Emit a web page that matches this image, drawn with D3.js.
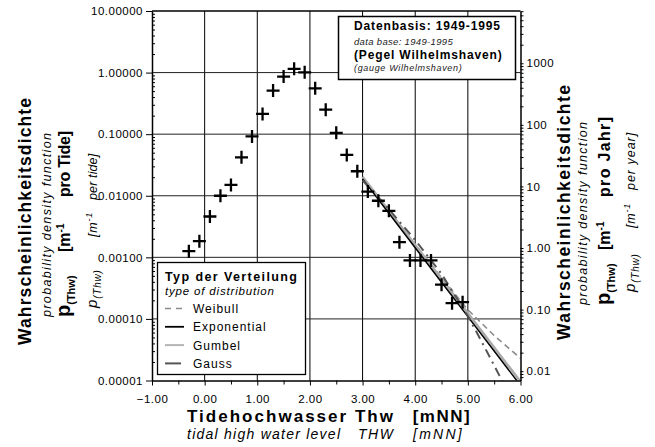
<!DOCTYPE html>
<html>
<head>
<meta charset="utf-8">
<script src="https://cdn.jsdelivr.net/npm/d3@7"></script>
<style>
  body { margin: 0; background: #fff; }
  svg { font-family: "Liberation Sans", Arial, sans-serif; }
</style>
</head>
<body>
<div class="container"></div>
<script>
// observed tide high water levels (m NN) and density per tide
const thw = [-0.3, -0.1, 0.1, 0.3, 0.5, 0.7, 0.9, 1.1, 1.3, 1.5, 1.7, 1.9, 2.1, 2.3,
             2.5, 2.7, 2.9, 3.1, 3.3, 3.5, 3.7, 3.9, 4.1, 4.3, 4.5, 4.7, 4.9];
const density = [0.00126, 0.00183, 0.0046, 0.0100, 0.0150, 0.042, 0.092, 0.213, 0.51, 0.86,
                 1.15, 1.01, 0.556, 0.25, 0.105, 0.046, 0.025, 0.0117, 0.0083, 0.0057,
                 0.00176, 0.00089, 0.00089, 0.00089, 0.00036, 0.00018, 0.000187];

// fitted distributions in the upper tail
const fitX = [3.0, 3.5, 4.0, 4.5, 5.0, 5.5, 6.0];
const weibull = [0.0200, 0.00562, 0.00162, 0.000468, 0.000141, 0.0000537, 0.0000229];
const exponential = [0.0188, 0.00519, 0.00143, 0.000395, 0.000109, 0.0000301, 0.0000083];
const gumbel = [0.0204, 0.00569, 0.00158, 0.000442, 0.000123, 0.0000343, 0.00000955];
const gaussX = [3.0, 3.5, 4.0, 4.5, 5.0, 5.3, 5.6, 5.8];
const gauss = [0.0178, 0.00603, 0.00191, 0.000537, 0.000112, 0.0000372, 0.0000120, 0.0000056];

const xTicks = [-1, 0, 1, 2, 3, 4, 5, 6];
const leftTicks = [0.00001, 0.0001, 0.001, 0.01, 0.1, 1, 10];
const rightTicks = [0.01, 0.1, 1, 10, 100, 1000];
const rightTickLabels = ["0.01", "0.10", "1.00", "10", "100", "1000"];
const tidesPerYear = 705.8;

const legendItems = ["Weibull", "Exponential", "Gumbel", "Gauss"];

const w = 655;
const h = 447;
const margin = { top: 11, left: 152, right: 134.5, bottom: 66.5 };
const width = w - margin.left - margin.right;
const height = h - margin.top - margin.bottom;

const svg = d3.select('.container').append('svg')
    .attr('width', w)
    .attr('height', h);

const chart = svg.append('g')
    .attr('transform', `translate(${margin.left}, ${margin.top})`);

const x = d3.scaleLinear().domain([-1, 6]).range([0, width]);
const y = d3.scaleLog().domain([1e-5, 10]).range([height, 0]);
const yR = d3.scaleLog().domain([1e-5 * tidesPerYear, 10 * tidesPerYear]).range([height, 0]);

// minor ticks per decade
const minorL = [];
for (let n = -5; n < 1; n++) for (let k = 2; k < 10; k++) minorL.push(k * Math.pow(10, n));
const minorR = [];
for (let n = -3; n < 4; n++) for (let k = 2; k < 10; k++) {
  const v = k * Math.pow(10, n);
  if (v > yR.domain()[0] && v < yR.domain()[1]) minorR.push(v);
}
const xMinor = [-0.5, 0.5, 1.5, 2.5, 3.5, 4.5, 5.5];

chart.append('defs').append('clipPath').attr('id', 'clip')
  .append('rect').attr('width', width).attr('height', height);

// grid
chart.append('g').selectAll('line')
  .data(xTicks.slice(1, -1))
  .enter().append('line')
    .attr('x1', d => x(d)).attr('x2', d => x(d))
    .attr('y1', 0).attr('y2', height)
    .attr('stroke', '#000').attr('stroke-width', 1);

chart.append('g').selectAll('line')
  .data(leftTicks.slice(1, -1))
  .enter().append('line')
    .attr('x1', 0).attr('x2', width)
    .attr('y1', d => y(d)).attr('y2', d => y(d))
    .attr('stroke', '#222').attr('stroke-width', 1);

// fitted lines
const plot = chart.append('g').attr('clip-path', 'url(#clip)');
const line = xs => d3.line().x((d, i) => x(xs[i])).y(d => y(d));

plot.append('path').datum(weibull)
  .attr('d', line(fitX)).attr('fill', 'none')
  .attr('stroke', '#8a8a8a').attr('stroke-width', 1.6).attr('stroke-dasharray', '6,4');
plot.append('path').datum(gumbel)
  .attr('d', line(fitX)).attr('fill', 'none')
  .attr('stroke', '#ababab').attr('stroke-width', 2.6);
plot.append('path').datum(exponential)
  .attr('d', line(fitX)).attr('fill', 'none')
  .attr('stroke', '#000').attr('stroke-width', 1.5);
plot.append('path').datum(gauss)
  .attr('d', line(gaussX)).attr('fill', 'none')
  .attr('stroke', '#555').attr('stroke-width', 2).attr('stroke-dasharray', '9,5,2,5');

// observed points
plot.selectAll('.pt')
  .data(density)
  .enter().append('path')
    .classed('pt', true)
    .attr('transform', (d, i) => `translate(${x(thw[i])},${y(d)})`)
    .attr('d', 'M-6.5,0H6.5M0,-6.5V6.5')
    .attr('stroke', '#000').attr('stroke-width', 2.3);

// axes
function styleAxis(g) {
  g.attr('font-family', null).attr('font-size', null);
  g.selectAll('text').attr('font-size', '11.5px').attr('letter-spacing', '0.5px').attr('fill', '#000');
  g.selectAll('line').attr('stroke', '#000');
  g.select('.domain').attr('stroke', '#000').attr('stroke-width', 1.5);
}

chart.append('g')
  .call(d3.axisLeft(y).tickValues(leftTicks).tickFormat(d3.format('.5f')).tickSize(6).tickSizeOuter(0).tickPadding(3))
  .call(styleAxis);
chart.append('g')
  .call(d3.axisLeft(y).tickValues(minorL).tickFormat('').tickSize(-3).tickSizeOuter(0))
  .call(g => g.select('.domain').remove())
  .call(styleAxis);

chart.append('g')
  .attr('transform', `translate(${width},0)`)
  .call(d3.axisRight(yR).tickValues(rightTicks).tickFormat((d, i) => rightTickLabels[i]).tickSize(3).tickSizeOuter(0).tickPadding(3))
  .call(styleAxis);
chart.append('g')
  .attr('transform', `translate(${width},0)`)
  .call(d3.axisRight(yR).tickValues(minorR).tickFormat('').tickSize(3).tickSizeOuter(0))
  .call(g => g.select('.domain').remove())
  .call(styleAxis);

chart.append('g')
  .attr('transform', `translate(0,${height})`)
  .call(d3.axisBottom(x).tickValues(xTicks).tickFormat(d3.format('.2f')).tickSize(5).tickSizeOuter(0).tickPadding(9.5))
  .call(styleAxis);
chart.append('g')
  .attr('transform', `translate(0,${height})`)
  .call(d3.axisBottom(x).tickValues(xMinor).tickFormat('').tickSize(4).tickSizeOuter(0))
  .call(g => g.select('.domain').remove())
  .call(styleAxis);

chart.append('line')
  .attr('x1', 0).attr('x2', width).attr('y1', 0).attr('y2', 0)
  .attr('stroke', '#000').attr('stroke-width', 1.5);

// title box
const tb = svg.append('g');
tb.append('rect')
  .attr('x', 338.5).attr('y', 16.5).attr('width', 177).attr('height', 63)
  .attr('fill', '#fff').attr('stroke', '#000').attr('stroke-width', 1.5);
const titleLines = [
  { t: 'Datenbasis: 1949-1995', y: 30, size: 12, bold: true, len: 146 },
  { t: 'data base: 1949-1995', y: 44.5, size: 9.5, bold: false, len: 98.7 },
  { t: '(Pegel Wilhelmshaven)', y: 58.5, size: 12, bold: true, len: 147.7 },
  { t: '(gauge Wilhelmshaven)', y: 70.5, size: 9, bold: false, len: 107.7 }
];
tb.selectAll('text').data(titleLines).enter().append('text')
  .attr('x', 354).attr('y', d => d.y)
  .attr('font-size', d => d.size)
  .attr('font-weight', d => d.bold ? 'bold' : null)
  .attr('font-style', d => d.bold ? null : 'italic')
  .attr('fill', d => d.bold ? '#000' : '#222')
  .attr('textLength', d => d.len)
  .text(d => d.t);

// legend
const lg = svg.append('g');
lg.append('rect')
  .attr('x', 157.5).attr('y', 262.5).attr('width', 148).attr('height', 112)
  .attr('fill', '#fff').attr('stroke', '#000').attr('stroke-width', 1.3);
lg.append('text').attr('x', 165).attr('y', 281).attr('font-size', 12.5)
  .attr('font-weight', 'bold').attr('textLength', 132).text('Typ der Verteilung');
lg.append('text').attr('x', 165).attr('y', 295).attr('font-size', 11.5)
  .attr('font-style', 'italic').attr('textLength', 109).text('type of distribution');
const lgStyles = [
  { stroke: '#8a8a8a', width: 1.6, dash: '6,5' },
  { stroke: '#000', width: 1.8, dash: null },
  { stroke: '#b5b5b5', width: 2, dash: null },
  { stroke: '#555', width: 2, dash: null }
];
const item = lg.selectAll('.item').data(legendItems).enter().append('g')
  .attr('transform', (d, i) => `translate(0,${308.5 + i * 18.3})`);
item.append('line')
  .attr('x1', 165).attr('x2', (d, i) => i === 3 ? 181 : 184)
  .attr('stroke', (d, i) => lgStyles[i].stroke)
  .attr('stroke-width', (d, i) => lgStyles[i].width)
  .attr('stroke-dasharray', (d, i) => lgStyles[i].dash);
item.append('text')
  .attr('x', 193).attr('y', 4.5)
  .attr('font-size', 12).attr('letter-spacing', '1px')
  .text(d => d);

// rotated axis titles, each piece starts (bottom) at its own y
function vText(px, py, opts) {
  return svg.append('text')
    .attr('transform', `translate(${px},${py}) rotate(-90)`)
    .attr('font-weight', opts.bold ? 'bold' : null)
    .attr('font-style', opts.italic ? 'italic' : null)
    .attr('font-size', opts.size)
    .attr('letter-spacing', opts.ls || null)
    .attr('textLength', opts.len || null);
}

function pLabel(px, ys, words, opts) {
  const a = vText(px, ys[0], opts);
  a.append('tspan').attr('font-size', opts.pSize).text('p');
  a.append('tspan').attr('font-size', opts.subSize).attr('dy', opts.subDy).text('(Thw)');
  const b = vText(px, ys[1], opts);
  b.append('tspan').text('[m');
  b.append('tspan').attr('font-size', opts.subSize - 1).attr('dy', -opts.supDy).text('-1');
  vText(px, ys[2], Object.assign({}, opts, { len: opts.wordLen })).text(words);
}

vText(31, 345, { bold: true, size: 17.5, len: 247 }).text('Wahrscheinlichkeitsdichte');
vText(51, 317, { italic: true, size: 12.5, len: 184 }).text('probability density function');
pLabel(70, [317, 252, 197], 'pro Tide]',
  { bold: true, size: 16, pSize: 20, subSize: 11, subDy: 5, supDy: 6, wordLen: 66 });
pLabel(97, [308, 237, 200], 'per tide]',
  { italic: true, size: 12.5, pSize: 15, subSize: 10, subDy: 4, supDy: 5, ls: '0.8px', wordLen: 47 });

vText(570, 340, { bold: true, size: 17.5, len: 255 }).text('Wahrscheinlichkeitsdichte');
vText(587, 305, { italic: true, size: 12.5, len: 183 }).text('probability density function');
pLabel(610, [305, 250, 197], 'pro Jahr]',
  { bold: true, size: 16, pSize: 20, subSize: 11, subDy: 5, supDy: 6, wordLen: 80 });
pLabel(635, [292, 228, 190], 'per year]',
  { italic: true, size: 12.5, pSize: 15, subSize: 10, subDy: 4, supDy: 5, ls: '0.8px', wordLen: 58 });

// x axis titles
svg.append('text').attr('x', 187).attr('y', 422).attr('font-size', 17)
  .attr('font-weight', 'bold').attr('textLength', 206).text('Tidehochwasser Thw');
svg.append('text').attr('x', 412.7).attr('y', 422).attr('font-size', 17)
  .attr('font-weight', 'bold').attr('textLength', 57).text('[mNN]');
svg.append('text').attr('x', 187).attr('y', 439).attr('font-size', 14)
  .attr('font-style', 'italic').attr('textLength', 153).text('tidal high water level');
svg.append('text').attr('x', 358).attr('y', 439).attr('font-size', 14)
  .attr('font-style', 'italic').attr('textLength', 35).text('THW');
svg.append('text').attr('x', 413).attr('y', 439).attr('font-size', 14)
  .attr('font-style', 'italic').attr('textLength', 48.7).text('[mNN]');
</script>
</body>
</html>
